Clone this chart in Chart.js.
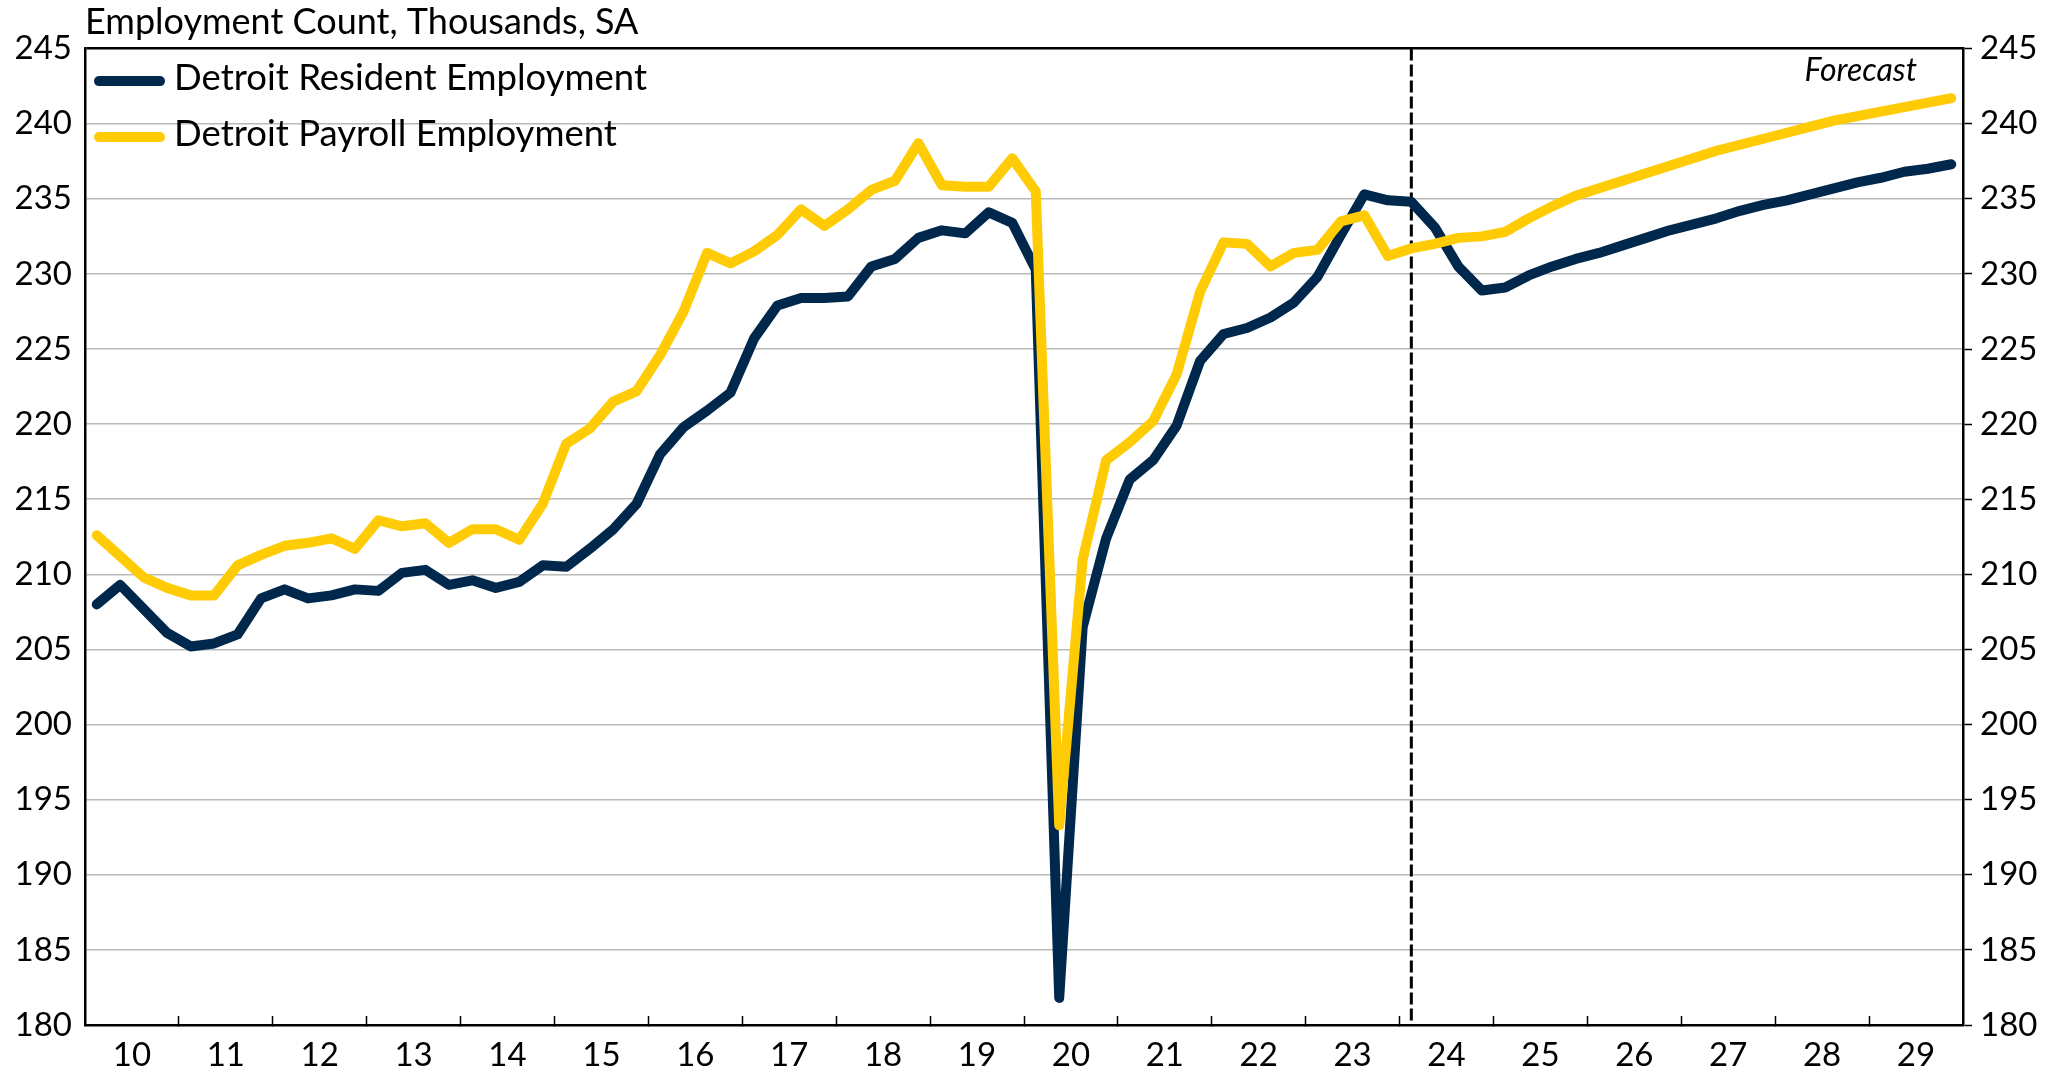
<!DOCTYPE html>
<html>
<head>
<meta charset="utf-8">
<title>Detroit Employment</title>
<script src="https://cdn.jsdelivr.net/npm/chart.js@4.4.1/dist/chart.umd.min.js"></script>
<style>
  html, body { margin: 0; padding: 0; background: #fff; }
  #wrap { position: relative; width: 2056px; height: 1074px; }
</style>
</head>
<body>
<div id="wrap"><canvas id="chart"></canvas></div>
<script>
// ── Data ──────────────────────────────────────
const years = ['10', '11', '12', '13', '14', '15', '16', '17', '18', '19',
               '20', '21', '22', '23', '24', '25', '26', '27', '28', '29'];

// quarterly, 2010Q1 .. 2029Q4 (thousands, SA)
const residentEmployment = [
  208.0, 209.3, 207.7, 206.1, 205.2, 205.4, 206.0, 208.4,
  209.0, 208.4, 208.6, 209.0, 208.9, 210.1, 210.3, 209.3,
  209.6, 209.1, 209.5, 210.6, 210.5, 211.7, 213.0, 214.7,
  218.0, 219.8, 220.9, 222.1, 225.7, 227.9, 228.4, 228.4,
  228.5, 230.5, 231.0, 232.4, 232.9, 232.7, 234.1, 233.4,
  230.3, 181.8, 206.5, 212.4, 216.3, 217.6, 219.9, 224.2,
  226.0, 226.4, 227.1, 228.1, 229.8, 232.6, 235.3, 234.9,
  234.8, 233.1, 230.5, 228.9, 229.1, 229.9, 230.5, 231.0,
  231.4, 231.9, 232.4, 232.9, 233.3, 233.7, 234.2, 234.6,
  234.9, 235.3, 235.7, 236.1, 236.4, 236.8, 237.0, 237.3
];

const payrollEmployment = [
  212.6, 211.2, 209.8, 209.1, 208.6, 208.6, 210.6, 211.3,
  211.9, 212.1, 212.4, 211.7, 213.6, 213.2, 213.4, 212.1,
  213.0, 213.0, 212.3, 214.7, 218.7, 219.7, 221.5, 222.2,
  224.6, 227.5, 231.4, 230.7, 231.5, 232.6, 234.3, 233.2,
  234.3, 235.6, 236.2, 238.7, 235.9, 235.8, 235.8, 237.7,
  235.5, 193.3, 211.0, 217.6, 218.8, 220.2, 223.3, 228.8,
  232.1, 232.0, 230.5, 231.4, 231.6, 233.5, 233.9, 231.2,
  231.7, 232.0, 232.4, 232.5, 232.8, 233.7, 234.5, 235.2,
  235.7, 236.2, 236.7, 237.2, 237.7, 238.2, 238.6, 239.0,
  239.4, 239.8, 240.2, 240.5, 240.8, 241.1, 241.4, 241.7
];

const forecastStart = '24Q1';
const yMin = 180, yMax = 245, yStep = 5;

const NAVY  = '#00274C';
const MAIZE = '#FFCB05';

// category labels built from the year list
const quarters = [];
years.forEach(y => { for (let q = 1; q <= 4; q++) quarters.push(`${y}Q${q}`); });


// ── Overlays: forecast divider, note, legend ──
const overlayPlugin = {
  id: 'overlay',
  beforeDatasetsDraw(chart) {
    const { ctx, chartArea, scales } = chart;
    const x = scales.x.getPixelForValue(quarters.indexOf(forecastStart));
    ctx.save();
    ctx.strokeStyle = '#000';
    ctx.lineWidth = 3;
    ctx.setLineDash([12, 4]);
    ctx.beginPath();
    ctx.moveTo(x, chartArea.top);
    ctx.lineTo(x, chartArea.bottom);
    ctx.stroke();
    ctx.restore();
  },
  afterDatasetsDraw(chart) {
    const { ctx, chartArea } = chart;
    ctx.save();

    // "Forecast" note
    ctx.fillStyle = '#000';
    ctx.font = 'italic 32px Lato';
    ctx.textAlign = 'right';
    ctx.textBaseline = 'alphabetic';
    ctx.fillText('Forecast', chartArea.right - 46, chartArea.top + 32);

    // legend, top-left inside the plot
    ctx.font = '36.5px Lato';
    ctx.textAlign = 'left';
    chart.data.datasets.forEach((ds, i) => {
      const ly = chartArea.top + 32.5 + i * 56;
      const lx = chartArea.left + 14;
      ctx.strokeStyle = ds.borderColor;
      ctx.lineWidth = 10;
      ctx.lineCap = 'round';
      ctx.beginPath();
      ctx.moveTo(lx, ly);
      ctx.lineTo(lx + 61, ly);
      ctx.stroke();
      ctx.fillText(ds.label, chartArea.left + 89, ly + 9);
    });
    ctx.restore();
  }
};


// ── Chart ─────────────────────────────────────
function renderChart() {
  Chart.defaults.font.family = 'Lato';
  Chart.defaults.color = '#000';

  const ctx = document.getElementById('chart').getContext('2d');
  new Chart(ctx, {
    type: 'line',
    data: {
      labels: quarters,
      datasets: [
        {
          label: 'Detroit Resident Employment',
          data: residentEmployment,
          borderColor: NAVY,
          backgroundColor: NAVY,
          borderWidth: 10,
          borderJoinStyle: 'round',
          borderCapStyle: 'round',
          pointRadius: 0,
          tension: 0,
          order: 1,
        },
        {
          label: 'Detroit Payroll Employment',
          data: payrollEmployment,
          borderColor: MAIZE,
          backgroundColor: MAIZE,
          borderWidth: 10,
          borderJoinStyle: 'round',
          borderCapStyle: 'round',
          pointRadius: 0,
          tension: 0,
          order: 0,
        }
      ]
    },
    options: {
      responsive: true,
      maintainAspectRatio: false,
      animation: false,
      layout: { padding: 0 },
      plugins: {
        legend: { display: false },
        tooltip: { enabled: false },
        title: {
          display: true,
          text: 'Employment Count, Thousands, SA',
          align: 'start',
          fullSize: false,
          color: '#000',
          font: { size: 36, weight: 'normal', lineHeight: 1.1 },
          padding: { top: 3, bottom: 6 }
        }
      },
      scales: {
        x: {
          type: 'category',
          offset: true,
          afterFit: s => { s.height = 49; },
          border: { display: true, color: '#000', width: 2.5 },
          grid: {
            display: true,
            offset: true,
            drawOnChartArea: false,
            drawTicks: true,
            tickLength: -9,
            tickWidth: 1.5,
            tickColor: c => (c.index > 0 && c.index % 4 === 0) ? '#000' : 'rgba(0,0,0,0)'
          },
          ticks: {
            autoSkip: false,
            maxRotation: 0,
            minRotation: 0,
            padding: 20,
            labelOffset: 11.7,
            color: '#000',
            font: { size: 33 },
            callback: (v, i) => (i % 4 === 1) ? years[Math.floor(i / 4)] : ''
          }
        },
        y: {
          position: 'left',
          min: yMin, max: yMax,
          afterFit: s => { s.width = 85; },
          border: { display: true, color: '#000', width: 2.5 },
          grid: {
            drawTicks: false,
            color: c => (c.tick && (c.tick.value === yMax || c.tick.value === yMin)) ? '#000' : '#B9B9B9',
            lineWidth: c => (c.tick && c.tick.value === yMax) ? 2.5 : 1.5
          },
          ticks: {
            stepSize: yStep,
            padding: 13,
            color: '#000',
            font: { size: 33 }
          }
        },
        y2: {
          position: 'right',
          min: yMin, max: yMax,
          afterFit: s => { s.width = 93; },
          border: { display: true, color: '#000', width: 2.5 },
          grid: {
            drawOnChartArea: false,
            drawTicks: true,
            tickLength: 9,
            tickWidth: 1.5,
            tickColor: '#000'
          },
          ticks: {
            stepSize: yStep,
            padding: 8,
            color: '#000',
            font: { size: 33 }
          }
        }
      }
    },
    plugins: [overlayPlugin]
  });
}

Promise.all([
  document.fonts.load('33px Lato'),
  document.fonts.load('italic 32px Lato')
]).then(renderChart, renderChart);
</script>
</body>
</html>
